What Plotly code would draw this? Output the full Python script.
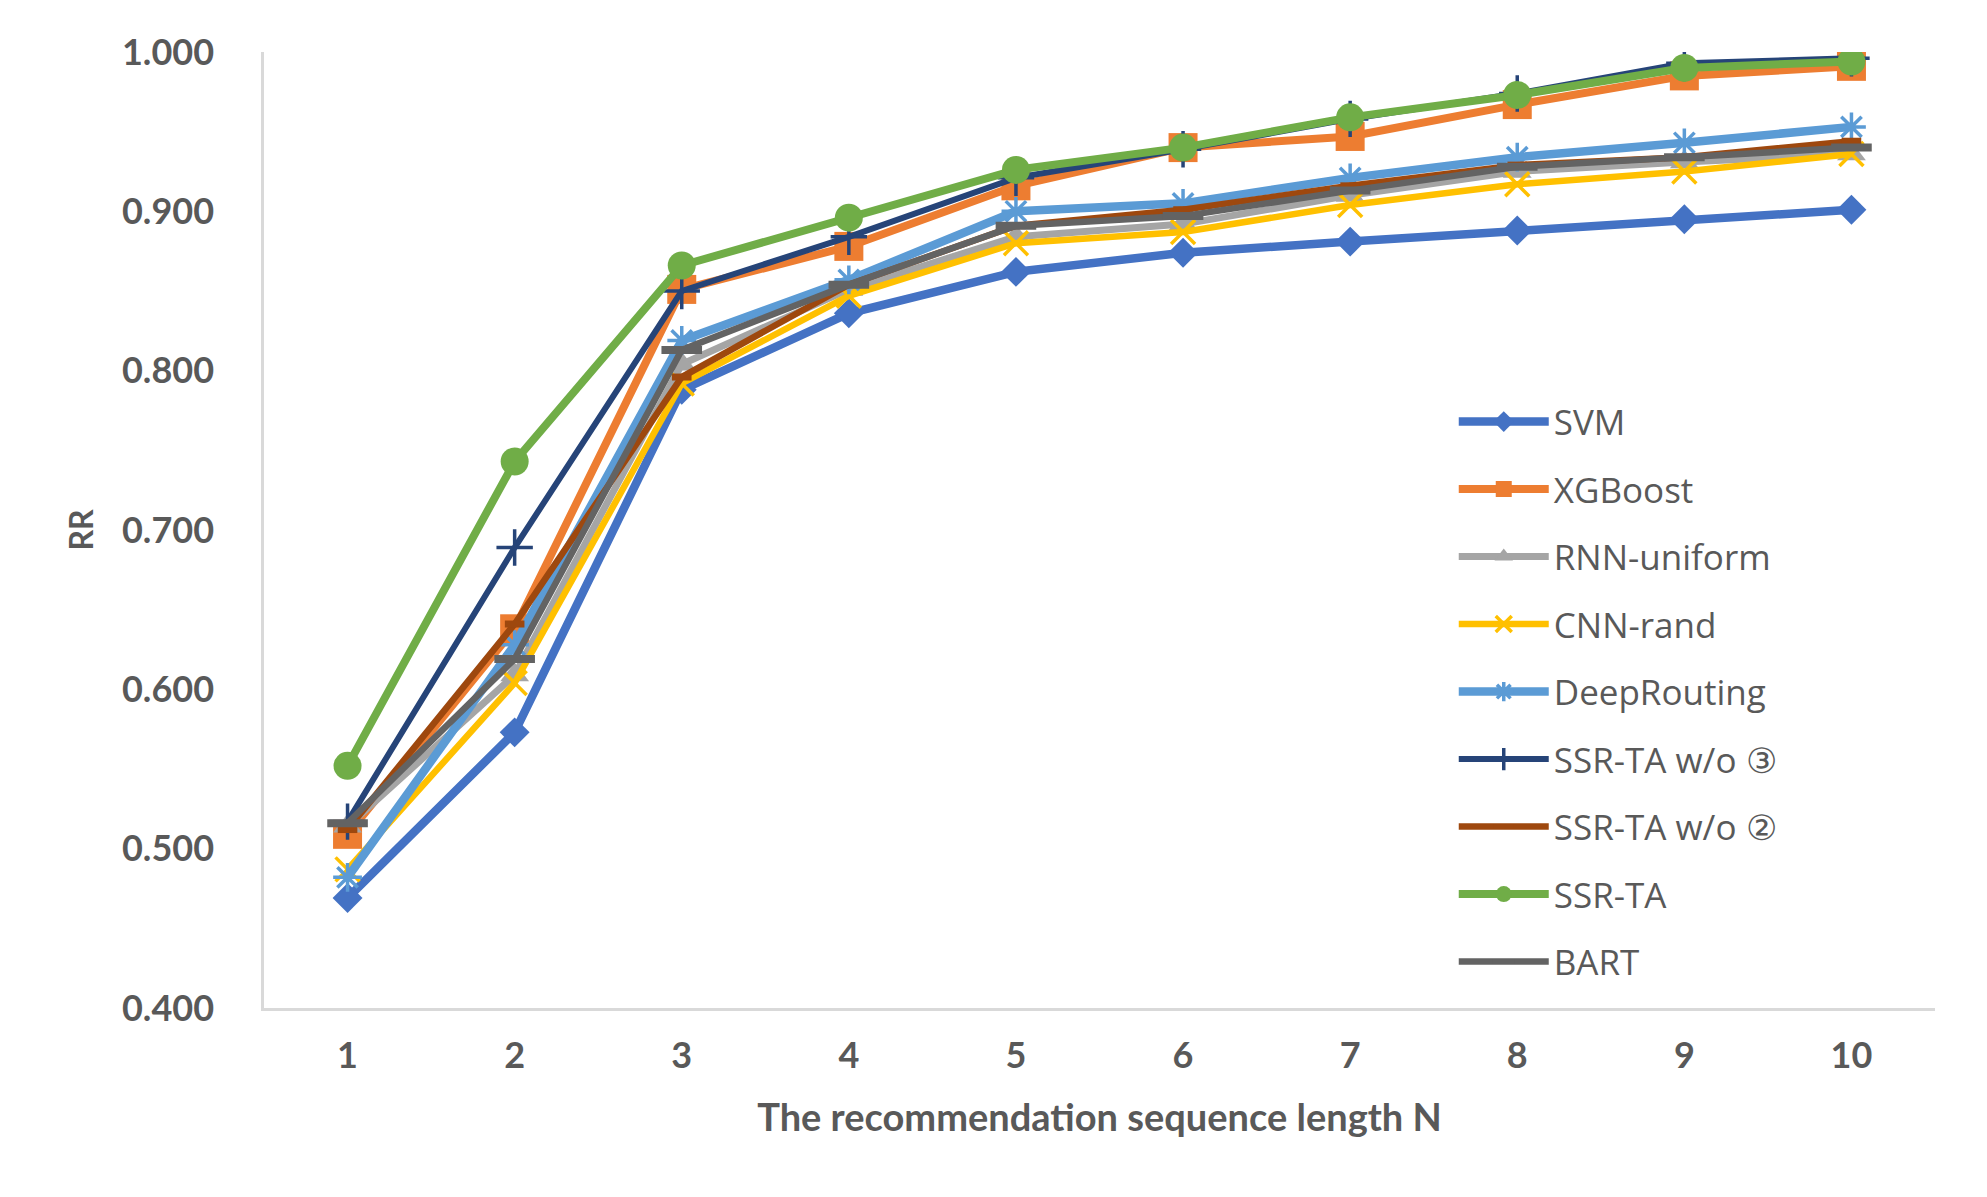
import plotly.graph_objects as go

# x values: recommendation sequence length N
n_len = [1, 2, 3, 4, 5, 6, 7, 8, 9, 10]

# RR per model
svm = [0.469, 0.573, 0.788, 0.836, 0.862, 0.874, 0.881, 0.888, 0.895, 0.901]
xgboost = [0.509, 0.638, 0.851, 0.878, 0.916, 0.940, 0.947, 0.967, 0.985, 0.991]
rnn_uniform = [0.514, 0.609, 0.804, 0.851, 0.884, 0.892, 0.910, 0.925, 0.931, 0.936]
cnn_rand = [0.487, 0.604, 0.792, 0.847, 0.880, 0.887, 0.904, 0.917, 0.925, 0.936]
deeprouting = [0.482, 0.628, 0.819, 0.857, 0.900, 0.905, 0.921, 0.934, 0.943, 0.953]
ssr_wo3 = [0.517, 0.689, 0.850, 0.884, 0.921, 0.939, 0.958, 0.974, 0.993, 0.996]
ssr_wo2 = [0.512, 0.641, 0.796, 0.854, 0.891, 0.901, 0.916, 0.929, 0.934, 0.944]
ssr_ta = [0.552, 0.743, 0.866, 0.896, 0.926, 0.940, 0.959, 0.973, 0.990, 0.994]
bart = [0.516, 0.619, 0.813, 0.854, 0.891, 0.897, 0.913, 0.928, 0.934, 0.940]

y_ticks = [0.4, 0.5, 0.6, 0.7, 0.8, 0.9, 1.0]

# name, values, colour, line width, marker symbol, marker size, marker line width
series = [
    ("SVM", svm, "#4472C4", 8.5, "diamond", 23, 0),
    ("XGBoost", xgboost, "#ED7D31", 8, "square", 29, 0),
    ("RNN-uniform", rnn_uniform, "#A5A5A5", 7, "triangle-up", 25, 0),
    ("CNN-rand", cnn_rand, "#FFC000", 6.5, "x-thin-open", 24, 3.5),
    ("DeepRouting", deeprouting, "#5B9BD5", 8.5, "asterisk-open", 24, 3.5),
    ("SSR-TA w/o ③", ssr_wo3, "#264478", 6, "cross-thin-open", 26, 3.5),
    ("SSR-TA w/o ②", ssr_wo2, "#9E480E", 6.5, "line-ew-open", 14, 7),
    ("SSR-TA", ssr_ta, "#70AD47", 8, "circle", 28, 0),
    ("BART", bart, "#636363", 6.5, "line-ew-open", 29, 8),
]

fig = go.Figure()
for i, (name, vals, col, lw, sym, msize, mlw) in enumerate(series):
    fig.add_trace(go.Scatter(
        x=n_len, y=vals, name=name, mode="lines+markers",
        legendgroup="g%d" % i,
        line=dict(color=col, width=lw),
        marker=dict(symbol=sym, size=msize, color=col,
                    line=dict(color=col, width=mlw)),
    ))

fig.update_layout(
    width=1987, height=1197,
    margin=dict(l=256, r=60, t=44, b=197),
    paper_bgcolor="white", plot_bgcolor="white",
    showlegend=True,
    legend=dict(
        x=0.712, y=0.644, xanchor="left", yanchor="top",
        font=dict(family="Open Sans", size=35, color="#595959"),
        bgcolor="rgba(0,0,0,0)", itemwidth=90, tracegroupgap=19,
    ),
    xaxis=dict(
        range=[0.5, 10.5], tickmode="array", tickvals=n_len,
        ticktext=[str(v) for v in n_len],
        showgrid=False, zeroline=False,
        showline=True, linecolor="#D9D9D9", linewidth=2.5,
        ticks="outside", ticklen=14, tickcolor="rgba(0,0,0,0)",
        tickfont=dict(family="Lato", size=36, color="#595959", weight="bold"),
        title=dict(text="<b>The recommendation sequence length N</b>",
                   font=dict(family="Lato", size=38, color="#595959"),
                   standoff=30),
    ),
    yaxis=dict(
        range=[0.4, 1.0], tickmode="array", tickvals=y_ticks,
        ticktext=["%.3f" % v for v in y_ticks],
        showgrid=False, zeroline=False,
        showline=True, linecolor="#D9D9D9", linewidth=2.5,
        ticks="outside", ticklen=40, tickcolor="rgba(0,0,0,0)",
        tickfont=dict(family="Lato", size=36, color="#595959", weight="bold"),
        title=dict(text="<b>RR</b>",
                   font=dict(family="Lato", size=32, color="#595959"),
                   standoff=19),
    ),
)

fig.write_html("out.html")
